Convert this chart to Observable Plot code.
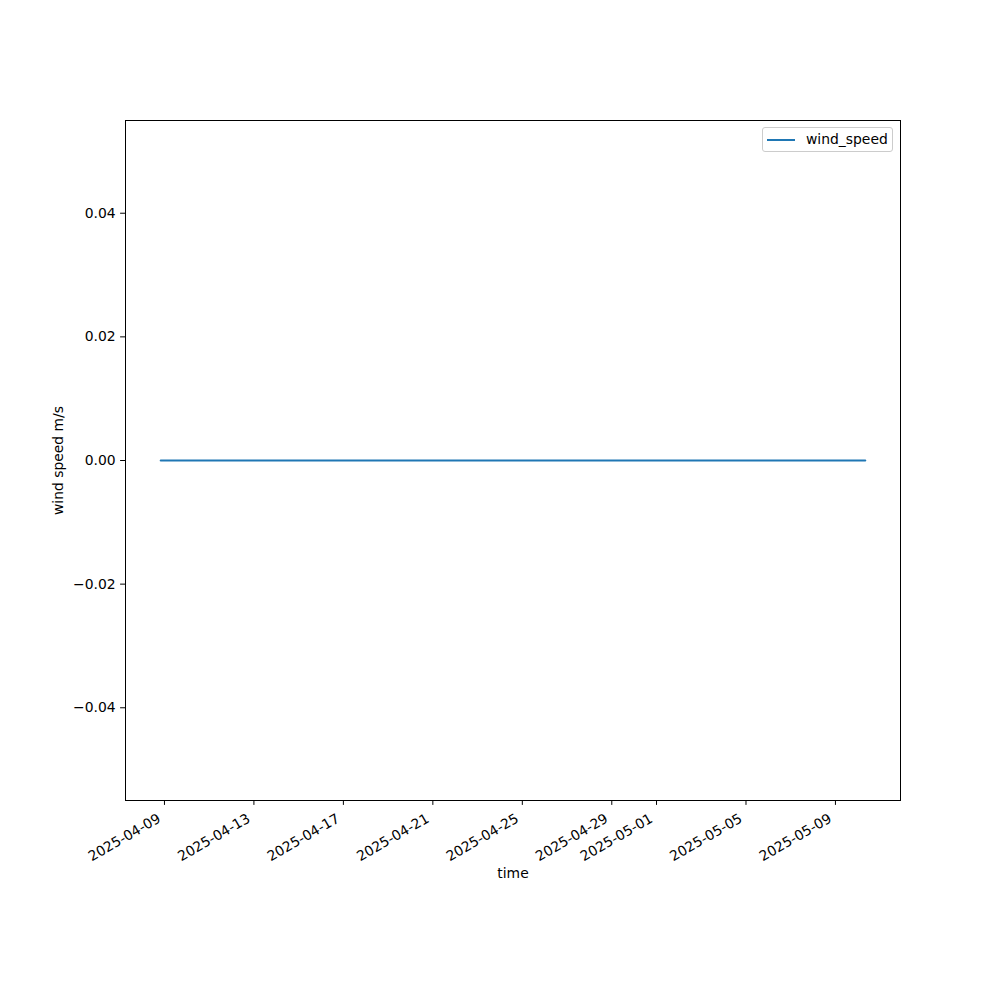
<!DOCTYPE html>
<html>
<head>
<meta charset="utf-8">
<script src="https://cdn.jsdelivr.net/npm/d3@7"></script>
<script src="https://cdn.jsdelivr.net/npm/@observablehq/plot@0.6"></script>
<style>
  html, body { margin: 0; padding: 0; background: #fff; }
  #wrap { position: relative; width: 1000px; height: 1000px; font-family: "DejaVu Sans", sans-serif; }
  #legend { position: absolute; left: 762px; top: 127px; width: 131px; height: 25px;
            border: 1px solid #cccccc; border-radius: 3px; background: rgba(255,255,255,0.8);
            font-size: 13.9px; color: #000; box-sizing: border-box; }
  #legend .sw { position: absolute; left: 4px; top: 11px; width: 28px; height: 0; border-top: 2.1px solid #1f77b4; }
  #legend .lb { position: absolute; left: 43px; top: 3px; white-space: nowrap; }
</style>
</head>
<body>
<div id="wrap">
  <div id="chart"></div>
  <div id="legend"><div class="sw"></div><div class="lb">wind_speed</div></div>
</div>
<script>
// Data
const times = [
  "2025-04-08T20:00", "2025-04-09T20:00", "2025-04-10T20:00", "2025-04-11T20:00",
  "2025-04-12T20:00", "2025-04-13T20:00", "2025-04-14T20:00", "2025-04-15T20:00",
  "2025-04-16T20:00", "2025-04-17T20:00", "2025-04-18T20:00", "2025-04-19T20:00",
  "2025-04-20T20:00", "2025-04-21T20:00", "2025-04-22T20:00", "2025-04-23T20:00",
  "2025-04-24T20:00", "2025-04-25T20:00", "2025-04-26T20:00", "2025-04-27T20:00",
  "2025-04-28T20:00", "2025-04-29T20:00", "2025-04-30T20:00", "2025-05-01T20:00",
  "2025-05-02T20:00", "2025-05-03T20:00", "2025-05-04T20:00", "2025-05-05T20:00",
  "2025-05-06T20:00", "2025-05-07T20:00", "2025-05-08T20:00", "2025-05-09T20:00",
  "2025-05-10T08:00"
];
const windSpeed = [
  0, 0, 0, 0, 0, 0, 0, 0, 0, 0, 0, 0, 0, 0, 0, 0,
  0, 0, 0, 0, 0, 0, 0, 0, 0, 0, 0, 0, 0, 0, 0, 0, 0
];
const xTickLabels = [
  "2025-04-09", "2025-04-13", "2025-04-17", "2025-04-21", "2025-04-25",
  "2025-04-29", "2025-05-01", "2025-05-05", "2025-05-09"
];
const yTicks = [-0.04, -0.02, 0.00, 0.02, 0.04];
const yDomain = [-0.055, 0.055];

const parse = d3.utcParse("%Y-%m-%dT%H:%M");
const data = times.map((t, i) => ({time: parse(t), wind_speed: windSpeed[i]}));
const xt = xTickLabels.map(d => d3.utcParse("%Y-%m-%d")(d));

const ext = d3.extent(data, d => d.time);
const pad = (ext[1] - ext[0]) * 0.05;
const xDomain = [new Date(+ext[0] - pad), new Date(+ext[1] + pad)];

const fs = 13.9;
const plot = Plot.plot({
  width: 1000,
  height: 1000,
  marginLeft: 125,
  marginRight: 100,
  marginTop: 120,
  marginBottom: 200,
  style: {fontFamily: "DejaVu Sans, sans-serif", fontSize: fs + "px", color: "#000", background: "#fff"},
  x: {type: "utc", domain: xDomain},
  y: {domain: yDomain},
  marks: [
    Plot.lineY(data, {x: "time", y: "wind_speed", stroke: "#1f77b4", strokeWidth: 2.1}),
    Plot.frame({stroke: "#000", strokeWidth: 1}),
    Plot.axisX({ticks: xt, tickFormat: d3.utcFormat("%Y-%m-%d"), tickSize: 0, tickPadding: 8.9,
      tickRotate: -30, fontSize: fs, label: null, dx: -5, dy: 8}),
    Plot.axisX({ticks: xt, tickFormat: () => "", tickSize: 4.9, label: null, stroke: "#000", strokeWidth: 1}),
    Plot.axisY({ticks: yTicks, tickFormat: d3.format(".2f"), tickSize: 4.9, tickPadding: 4.9,
      fontSize: fs, label: null, stroke: "#000", strokeWidth: 1}),
    Plot.text(["time"], {frameAnchor: "bottom", dy: 73, fontSize: fs, lineAnchor: "middle"}),
    Plot.text(["wind speed m/s"], {frameAnchor: "left", dx: -67, rotate: -90, fontSize: fs,
      textAnchor: "middle", lineAnchor: "middle"})
  ]
});
document.getElementById("chart").appendChild(plot);
</script>
</body>
</html>
